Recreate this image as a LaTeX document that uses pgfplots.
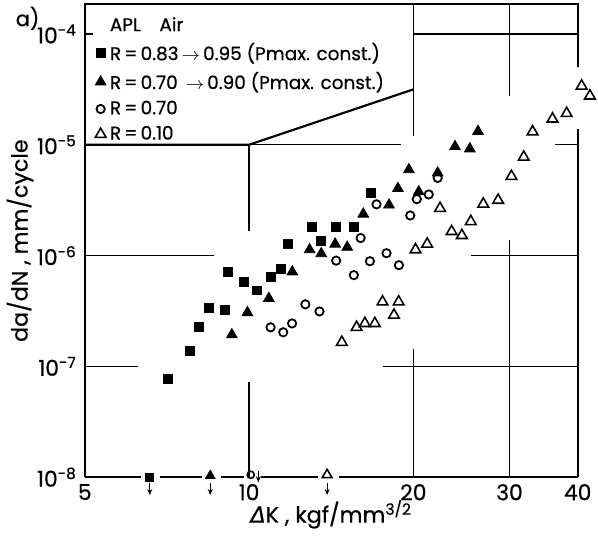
\documentclass[border=0pt]{standalone}
\usepackage{pgfplots}
\pgfplotsset{compat=1.18}
\usetikzlibrary{arrows.meta}
\usepackage{fontspec}
\setmainfont{Poppins}[FakeBold=0.6]
\newfontfamily\dv{DejaVu Sans}[FakeBold=0.6]

\pgfplotsset{
  grd/.style={black, line width=0.6pt, no marks, forget plot},
  brd/.style={black, line width=1.1pt, no marks, forget plot},
  dn/.style={black, line width=0.6pt, no marks, forget plot, -{Stealth[length=3pt,width=2.5pt]}},
}

\begin{document}
\begin{tikzpicture}
\begin{axis}[
    xmode=log, ymode=log,
    scale only axis,
    width=248.5pt, height=238.5pt,
    xmin=5, xmax=40, ymin=1e-8, ymax=1.86e-4,
    axis line style={draw=none},
    clip=false,
    xtick={5,10,20,30,40}, xticklabels={5,10,20,30,40},
    ytick={1e-8,1e-7,1e-6,1e-5,1e-4},
    yticklabels={10\textsuperscript{-8},10\textsuperscript{-7},10\textsuperscript{-6},10\textsuperscript{-5},10\textsuperscript{-4}},
    xminorticks=false, yminorticks=false,
    major tick length=0pt,
    tick label style={font=\fontsize{11}{13}\selectfont},
    yticklabel style={xshift=-0.5pt},
    xlabel={{\dv\itshape Δ}K ,\ kgf/mm\textsuperscript{3/2}},
    ylabel={da/dN ,\ mm/cycle},
    label style={font=\fontsize{11.2}{13}\selectfont},
    xlabel style={yshift=7pt},
    ylabel style={yshift=-5pt},
    legend style={draw=none, fill=none, at={(-0.015,0.99)}, anchor=north west,
      font=\fontsize{9.3}{11}\selectfont, row sep=0.4pt},
    legend cell align=left,
]

% legend corner and grid, drawn broken as in the original
\addplot[brd] coordinates {(5,1e-5) (10,1e-5) (20,3.16e-5)};
\addplot[grd] coordinates {(10,1e-5) (19.0,1e-5)};
\addplot[grd] coordinates {(36.4,1e-5) (40,1e-5)};
\addplot[grd] coordinates {(20,1e-4) (40,1e-4)};
\addplot[grd] coordinates {(5,1e-4) (5.17,1e-4)};
\addplot[grd] coordinates {(5,1e-6) (8.63,1e-6)};
\addplot[grd] coordinates {(25.5,1e-6) (40,1e-6)};
\addplot[grd] coordinates {(5,1e-7) (6.25,1e-7)};
\addplot[grd] coordinates {(17.6,1e-7) (40,1e-7)};
\addplot[grd] coordinates {(10,1e-5) (10,1.66e-6)};
\addplot[grd] coordinates {(10,7.2e-8) (10,1e-8)};
\addplot[grd] coordinates {(20,1.86e-4) (20,1.2e-5)};
\addplot[grd] coordinates {(20,1.43e-7) (20,1e-8)};
\addplot[grd] coordinates {(30,1.86e-4) (30,2.74e-5)};
\addplot[grd] coordinates {(30,1.38e-6) (30,1e-8)};

% frame
\addplot[brd] coordinates {(5,1e-8) (5,1.86e-4) (40,1.86e-4) (40,4.98e-5)};
\addplot[brd] coordinates {(40,1.39e-5) (40,1e-8)};
\addplot[brd] coordinates {(5,1e-8) (6.35,1e-8)};
\addplot[brd] coordinates {(6.88,1e-8) (8.2,1e-8)};
\addplot[brd] coordinates {(8.9,1e-8) (9.78,1e-8)};
\addplot[brd] coordinates {(10.53,1e-8) (13.4,1e-8)};
\addplot[brd] coordinates {(14.6,1e-8) (40,1e-8)};

% below 1e-8 (no growth)
\addplot[only marks, mark=square*, mark size=2pt, forget plot] coordinates {(6.58,1e-8)};
\addplot[only marks, mark=triangle*, mark size=2.8pt, forget plot] coordinates {(8.49,1.03e-8)};
\addplot[only marks, mark=o, mark size=1.8pt, line width=0.8pt, forget plot] coordinates {(10.07,1.05e-8)};
\addplot[only marks, mark=triangle, mark size=2.8pt, line width=0.8pt, forget plot] coordinates {(13.9,1.05e-8)};
\addplot[dn] coordinates {(6.58,0.88e-8) (6.58,0.69e-8)};
\addplot[dn] coordinates {(8.49,0.88e-8) (8.49,0.69e-8)};
\addplot[dn] coordinates {(10.4,1.13e-8) (10.4,0.9e-8)};
\addplot[dn] coordinates {(13.9,0.88e-8) (13.9,0.69e-8)};

\addlegendimage{empty legend}
\addlegendentry{APL\quad Air}

% R = 0.83 -> 0.95
\addplot[only marks, mark=square*, mark size=2.25pt] coordinates {
  (7.11,7.65e-8) (7.78,1.37e-7) (8.08,2.25e-7) (8.44,3.40e-7) (9.04,3.21e-7)
  (9.16,7.09e-7) (9.80,5.77e-7) (10.32,4.85e-7) (10.98,6.39e-7) (11.45,7.59e-7)
  (11.78,1.27e-6) (13.05,1.80e-6) (13.56,1.36e-6) (14.44,1.83e-6) (15.56,1.83e-6)
  (16.70,3.69e-6)
};
\addlegendentry{R\,=\,0.83\,$\rightarrow$\,0.95 (Pmax. const.)}

% R = 0.70 -> 0.90
\addplot[only marks, mark=triangle*, mark size=3.1pt] coordinates {
  (9.30,1.93e-7) (9.93,3.06e-7) (10.87,4.11e-7) (12.0,7.13e-7) (12.91,1.13e-6)
  (13.56,1.04e-6) (14.38,1.27e-6) (15.13,1.19e-6) (16.19,2.37e-6) (18.05,2.86e-6)
  (18.74,4.03e-6) (20.46,3.77e-6) (19.63,5.96e-6) (22.16,5.57e-6) (23.84,9.64e-6)
  (25.38,9.19e-6) (26.27,1.32e-5)
};
\addlegendentry{R\,=\,0.70 \,$\rightarrow$\,0.90 (Pmax. const.)}

% R = 0.70
\addplot[only marks, mark=o, mark size=2.1pt, line width=0.9pt] coordinates {
  (10.95,2.25e-7) (11.55,2.03e-7) (11.99,2.44e-7) (12.68,3.63e-7) (13.46,3.13e-7)
  (14.44,9.0e-7) (15.56,6.66e-7) (16.01,1.44e-6) (16.65,8.89e-7) (17.12,2.90e-6)
  (17.86,1.05e-6) (18.82,8.19e-7) (19.74,2.30e-6) (20.29,3.23e-6) (21.34,3.56e-6)
  (22.16,5.02e-6)
};
\addlegendentry{R\,=\,0.70}

% R = 0.10
\addplot[only marks, mark=triangle, mark size=3.1pt, line width=0.8pt] coordinates {
  (14.79,1.65e-7) (15.74,2.25e-7) (16.30,2.44e-7) (17.0,2.44e-7) (17.56,3.82e-7)
  (18.80,3.82e-7) (18.43,2.90e-7) (20.18,1.13e-6) (21.20,1.27e-6) (22.38,2.67e-6)
  (23.50,1.65e-6) (24.54,1.52e-6) (25.48,2.03e-6) (26.86,2.92e-6) (28.60,3.16e-6)
  (30.25,5.19e-6) (31.86,7.74e-6) (33.07,1.31e-5) (35.97,1.71e-5) (38.19,1.92e-5)
  (40.67,3.39e-5) (42.12,2.76e-5)
};
\addlegendentry{R\,=\,0.10}

\node[font=\fontsize{10.5}{12}\selectfont] at (rel axis cs:-0.116,0.97) {a)};
\end{axis}
\end{tikzpicture}
\end{document}
